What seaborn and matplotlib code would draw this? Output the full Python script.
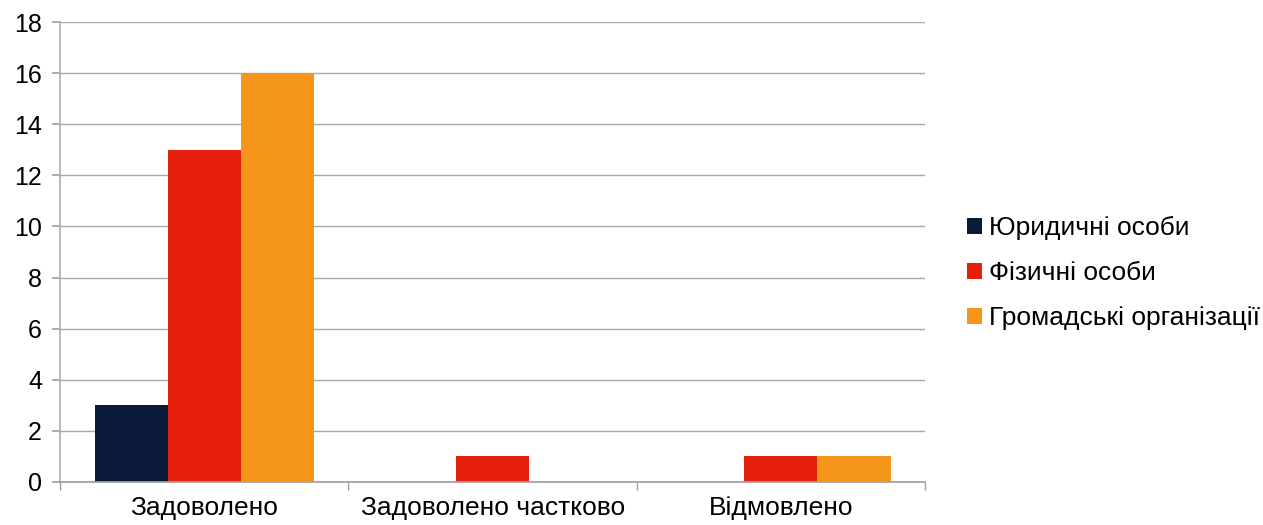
import matplotlib
matplotlib.use("Agg")
import matplotlib.pyplot as plt
import seaborn as sns
import pandas as pd

categories = ["Задоволено", "Задоволено частково", "Відмовлено"]
series_names = ["Юридичні особи", "Фізичні особи", "Громадські організації"]
yurydychni = [3, 0, 0]
fizychni = [13, 1, 1]
hromadski = [16, 0, 1]
colors = ["#0c1a3a", "#e61e0c", "#f5961a"]

rows = []
for name, vals in zip(series_names, [yurydychni, fizychni, hromadski]):
    for c, v in zip(categories, vals):
        rows.append({"cat": c, "series": name, "value": v})
df = pd.DataFrame(rows)

sns.set_theme(style="white")
plt.rcParams['font.family'] = ['Liberation Sans', 'DejaVu Sans']

fig = plt.figure(figsize=(12.63, 5.25), dpi=100)
ax = fig.add_axes([0.0475, 0.082, 0.685, 0.876])
sns.barplot(data=df, x="cat", y="value", hue="series", hue_order=series_names,
            order=categories, palette=colors, width=0.76, saturation=1,
            linewidth=0, edgecolor="none", ax=ax, legend=False)

ax.set_ylim(0, 18)
ax.set_yticks(range(0, 19, 2))
ax.set_xlim(-0.5, 2.5)
ax.yaxis.grid(True, color="#a8a8a8", linewidth=1)
ax.set_axisbelow(True)
for s in ["top", "right"]:
    ax.spines[s].set_visible(False)
ax.spines["left"].set_color("#b0b0b0")
ax.spines["bottom"].set_color("#a0a0a0")
ax.set_xlabel("")
ax.set_ylabel("")
ax.set_xticks([0, 1, 2])
ax.set_xticklabels(categories, fontsize=19, color="black")
ax.set_xticks([-0.5, 0.5, 1.5, 2.5], minor=True)
ax.tick_params(axis="x", which="major", length=0, pad=10)
ax.tick_params(axis="x", which="minor", length=6, color="#a0a0a0", direction="out", bottom=True)
ax.tick_params(axis="y", length=6, color="#a0a0a0", direction="out", left=True,
               labelsize=18, labelcolor="black", pad=7)

from matplotlib.patches import Patch
handles = [Patch(facecolor=c, edgecolor="none") for c in colors]
leg = fig.legend(handles, series_names, loc="center left", bbox_to_anchor=(0.766, 0.48),
                 frameon=False, fontsize=19, handlelength=0.55, handleheight=0.55,
                 handletextpad=0.25, labelspacing=0.8, borderpad=0, borderaxespad=0)
for t in leg.get_texts():
    t.set_color("black")

fig.savefig("out.png", dpi=100, facecolor="white")
